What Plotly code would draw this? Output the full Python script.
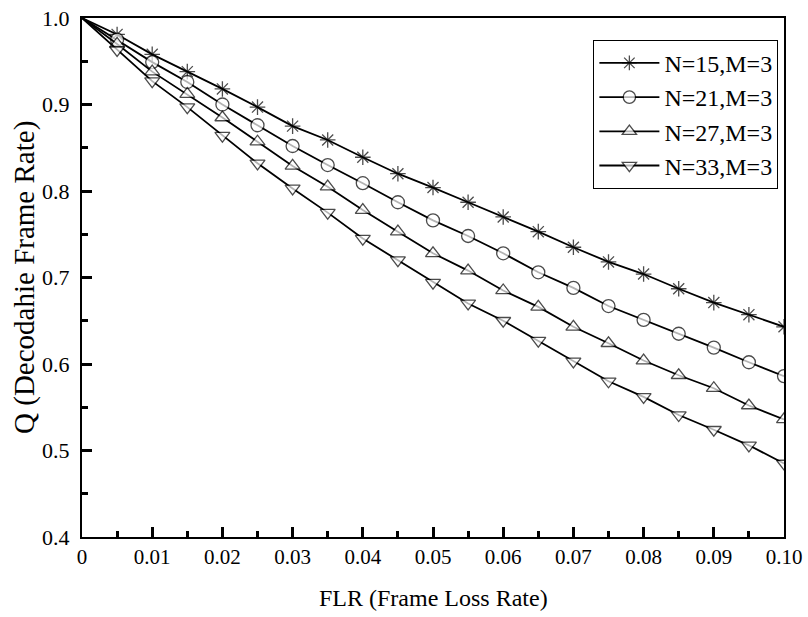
import plotly.graph_objects as go

FLR = [0, 0.005, 0.01, 0.015, 0.02, 0.025, 0.03, 0.035, 0.04, 0.045, 0.05,
       0.055, 0.06, 0.065, 0.07, 0.075, 0.08, 0.085, 0.09, 0.095, 0.1]

Q_N15 = [1.0, 0.981, 0.958, 0.938, 0.918, 0.897, 0.875, 0.859, 0.839, 0.820, 0.804,
         0.787, 0.770, 0.753, 0.735, 0.718, 0.704, 0.687, 0.671, 0.657, 0.643]
Q_N21 = [1.0, 0.975, 0.949, 0.926, 0.900, 0.876, 0.852, 0.830, 0.809, 0.787, 0.766,
         0.748, 0.728, 0.706, 0.688, 0.667, 0.651, 0.635, 0.619, 0.602, 0.586]
Q_N27 = [1.0, 0.970, 0.938, 0.912, 0.885, 0.857, 0.829, 0.805, 0.778, 0.753, 0.728,
         0.708, 0.685, 0.666, 0.643, 0.624, 0.604, 0.587, 0.572, 0.552, 0.536]
Q_N33 = [1.0, 0.963, 0.927, 0.897, 0.864, 0.832, 0.803, 0.775, 0.745, 0.720, 0.694,
         0.670, 0.650, 0.627, 0.603, 0.580, 0.562, 0.541, 0.524, 0.506, 0.485]

SERIES = [
    ("N=15,M=3", Q_N15, "asterisk-open", "black"),
    ("N=21,M=3", Q_N21, "circle", "white"),
    ("N=27,M=3", Q_N27, "triangle-up", "white"),
    ("N=33,M=3", Q_N33, "triangle-down", "white"),
]

X_TICKS = [0, 0.01, 0.02, 0.03, 0.04, 0.05, 0.06, 0.07, 0.08, 0.09, 0.1]
X_LABELS = ["0", "0.01", "0.02", "0.03", "0.04", "0.05", "0.06", "0.07", "0.08", "0.09", "0.10"]
X_MINOR = [0.005, 0.015, 0.025, 0.035, 0.045, 0.055, 0.065, 0.075, 0.085, 0.095]
Y_TICKS = [0.4, 0.5, 0.6, 0.7, 0.8, 0.9, 1.0]
Y_LABELS = ["0.4", "0.5", "0.6", "0.7", "0.8", "0.9", "1.0"]
Y_MINOR = [0.45, 0.55, 0.65, 0.75, 0.85, 0.95]

FONT = "Liberation Serif, Times New Roman, serif"
TICK = "black"

fig = go.Figure()
for name, values, symbol, fill in SERIES:
    # no marker on the shared start point at the corner
    sizes = [0] + [13] * (len(values) - 1)
    fig.add_trace(go.Scatter(
        x=FLR, y=values, name=name, mode="lines+markers",
        line=dict(color="black", width=1.8),
        marker=dict(symbol=symbol, size=sizes, color=fill,
                    line=dict(color="black", width=1.3)),
    ))

axis_common = dict(
    showline=True, linecolor="black", linewidth=2, mirror=True,
    ticks="inside", ticklen=10, tickwidth=2.5, tickcolor=TICK,
    showgrid=False, zeroline=False, automargin=False, ticklabeloverflow="allow",
)

fig.update_layout(
    xaxis=dict(
        range=[0, 0.1], tickmode="array", tickvals=X_TICKS, ticktext=X_LABELS,
        tickfont=dict(family=FONT, size=21, color="black"),
        minor=dict(tickmode="array", tickvals=X_MINOR, ticks="inside", ticklen=6,
                   tickwidth=2.5, tickcolor=TICK),
        **axis_common,
    ),
    yaxis=dict(
        range=[0.4, 1.0], tickmode="array", tickvals=Y_TICKS, ticktext=Y_LABELS,
        tickfont=dict(family=FONT, size=22, color="black"), ticklabelstandoff=6,
        minor=dict(tickmode="array", tickvals=Y_MINOR, ticks="inside", ticklen=6,
                   tickwidth=2.5, tickcolor=TICK),
        **axis_common,
    ),
    # overlay axes that only carry the mirrored ticks on the top and right edges
    xaxis2=dict(
        overlaying="x", side="top", anchor="y", range=[0, 0.1],
        tickmode="array", tickvals=X_TICKS + X_MINOR, showticklabels=False,
        ticks="inside", ticklen=8, tickwidth=2.5, tickcolor=TICK,
        showgrid=False, zeroline=False, showline=False,
    ),
    yaxis2=dict(
        overlaying="y", side="right", anchor="x", range=[0.4, 1.0],
        tickmode="array", tickvals=Y_TICKS + Y_MINOR, showticklabels=False,
        ticks="inside", ticklen=8, tickwidth=2.5, tickcolor=TICK,
        showgrid=False, zeroline=False, showline=False,
    ),
)

fig.add_annotation(
    text="FLR (Frame Loss Rate)", xref="paper", yref="paper",
    x=0.5, y=-0.118, xanchor="center", yanchor="middle", showarrow=False,
    font=dict(family=FONT, size=24, color="black"),
)
fig.add_annotation(
    text="Q (Decodahie Frame Rate)", xref="paper", yref="paper",
    x=-0.082, y=0.5, xanchor="center", yanchor="middle", showarrow=False,
    textangle=-90, font=dict(family=FONT, size=29, color="black"),
)

fig.update_layout(
    width=808, height=617,
    margin=dict(l=82, r=24, t=18, b=80),
    plot_bgcolor="white", paper_bgcolor="white",
    font=dict(family=FONT, color="black"),
    legend=dict(
        x=0.992, y=0.958, xanchor="right", yanchor="top",
        bgcolor="white", bordercolor="black", borderwidth=1,
        font=dict(family=FONT, size=24, color="black"),
        itemwidth=60, tracegroupgap=0,
    ),
)

# drop the page's default body margin so the figure fills the window exactly
fig.write_html("out.html", config={"displayModeBar": False},
               post_script="document.body.style.margin='0';")
